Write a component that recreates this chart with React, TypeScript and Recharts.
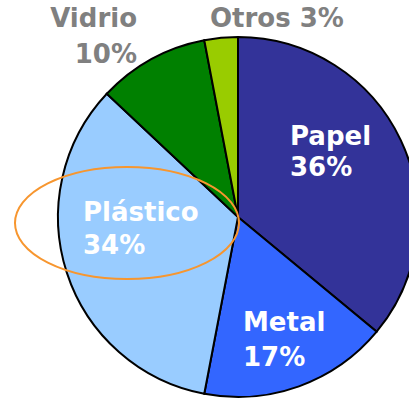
import { PieChart, Pie, Cell } from 'recharts';

const names = ['Papel', 'Metal', 'Plástico', 'Vidrio', 'Otros'];
const values = [36, 17, 34, 10, 3];
const colors = ['#333399', '#3366FF', '#99CCFF', '#008000', '#99CC00'];

const data = names.map((n, i) => ({ name: n, value: values[i] }));

// label placement relative to the pie centre
const labelPos: any = {
  Papel: { dx: 52, dy: -72, gap: 31, anchor: 'start', fill: '#fff', one: false },
  Metal: { dx: 5, dy: 114, gap: 35, anchor: 'start', fill: '#fff', one: false },
  'Plástico': { dx: -155, dy: 4, gap: 33, anchor: 'start', fill: '#fff', one: false },
  Vidrio: { dx: -101, dy: -190, gap: 36, anchor: 'end', fill: '#808080', one: false },
  Otros: { dx: -28, dy: -190, gap: 0, anchor: 'start', fill: '#808080', one: true },
};

function renderLabel(props: any) {
  const { cx, cy, name, value } = props;
  const p = labelPos[name];
  const x = cx + p.dx;
  const y = cy + p.dy;
  const style = { fontFamily: 'DejaVu Sans', fontWeight: 'bold', fontSize: 26 } as any;
  if (p.one) {
    return (
      <text x={x} y={y} fill={p.fill} textAnchor={p.anchor} style={style}>
        {`${name} ${value}%`}
      </text>
    );
  }
  return (
    <text x={x} y={y} fill={p.fill} textAnchor={p.anchor} style={style}>
      <tspan x={x} y={y}>{name}</tspan>
      <tspan x={x} y={y + p.gap}>{`${value}%`}</tspan>
    </text>
  );
}

export default function App() {
  return (
    <div style={{ position: 'absolute', left: 0, top: 0, width: 409, height: 400, background: '#fff' }}>
      <PieChart width={409} height={400} margin={{ top: 0, right: 0, bottom: 0, left: 0 }}>
        <Pie
          data={data}
          dataKey="value"
          nameKey="name"
          cx={238}
          cy={217}
          outerRadius={180}
          startAngle={90}
          endAngle={-270}
          stroke="#000"
          strokeWidth={2}
          label={renderLabel}
          labelLine={false}
          isAnimationActive={false}
        >
          {data.map((d, i) => (
            <Cell key={d.name} fill={colors[i]} />
          ))}
        </Pie>
      </PieChart>
      {/* orange highlight round the Plástico label */}
      <svg width={409} height={400} style={{ position: 'absolute', left: 0, top: 0, pointerEvents: 'none' }}>
        <ellipse cx={127} cy={223} rx={112} ry={56} fill="none" stroke="#F7962F" strokeWidth={2} />
      </svg>
    </div>
  );
}
